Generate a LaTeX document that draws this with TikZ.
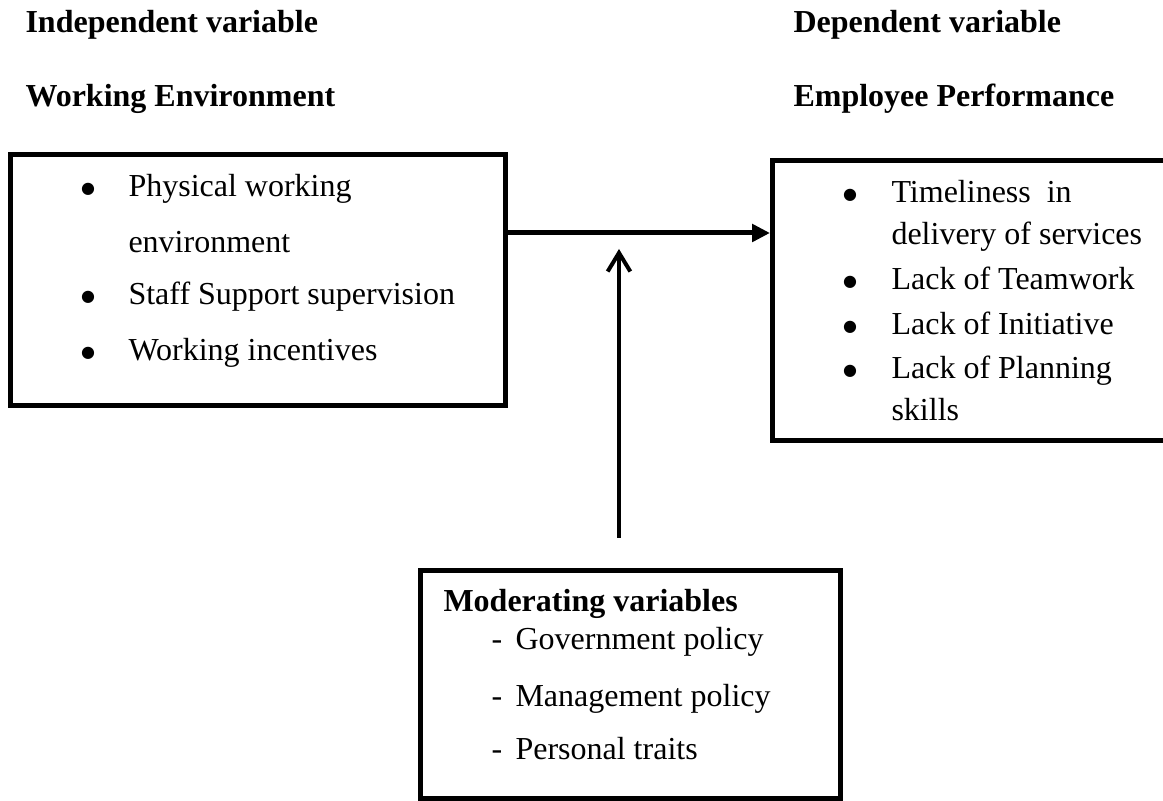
\documentclass[tikz,border=0pt]{standalone}
\usepackage{fontspec}
\setmainfont{Liberation Serif}
\newfontfamily\dotfont{DejaVu Sans}
\usetikzlibrary{positioning,fit,arrows.meta}

\tikzset{
  varbox/.style={draw, line width=1.875pt, inner sep=0pt},
  txt/.style={anchor=base west, inner sep=0pt, font=\fontsize{12pt}{14pt}\selectfont},
  headtxt/.style={txt, font=\fontsize{12pt}{14pt}\selectfont\bfseries},
  dot/.style={anchor=base, inner sep=0pt, font=\dotfont\fontsize{6pt}{7pt}\selectfont},
  flowarrow/.style={line width=1.875pt, -{Triangle[length=6.75pt,width=6.5pt]}},
  modarrow/.style={line width=1.5pt, -{Straight Barb[length=7pt,width=8.5pt]}},
}

\begin{document}
\begin{tikzpicture}[x=0.375pt,y=-0.375pt]
        \useasboundingbox (0,0) rectangle (1163,801);
        \clip (0,0) rectangle (1163,801);

        % Headings
        \node[headtxt] (indeptitle) at (25,33) {Independent variable};
        \node[headtxt] (indepname) at (25,107) {Working Environment};
        \node[headtxt] (deptitle) at (793,33) {Dependent variable};
        \node[headtxt] (depname) at (793,107) {Employee Performance};

        % Draw the boxes
        \node[varbox, fit={(10,154.5) (505,405.5)}] (indep) {};
        \node[varbox, fit={(772.5,160.5) (1180,440.5)}] (dep) {};
        \node[varbox, fit={(420.5,570.5) (840.5,798.5)}] (moder) {};

        % Working environment items
        \node[dot] (ib1) at (88,194) {●};
        \node[txt] (it1) at (128,197) {Physical working};
        \node[txt] (it1b) at (128,253) {environment};
        \node[dot] (ib2) at (88,302) {●};
        \node[txt] (it2) at (128,305) {Staff Support supervision};
        \node[dot] (ib3) at (88,358) {●};
        \node[txt] (it3) at (128,361) {Working incentives};

        % Employee performance items
        \node[dot] (db1) at (850,200) {●};
        \node[txt] (dt1) at (891,203) {Timeliness\ \ in};
        \node[txt] (dt1b) at (891,245) {delivery of services};
        \node[dot] (db2) at (850,287) {●};
        \node[txt] (dt2) at (891,290) {Lack of Teamwork};
        \node[dot] (db3) at (850,332) {●};
        \node[txt] (dt3) at (891,335) {Lack of Initiative};
        \node[dot] (db4) at (850,376) {●};
        \node[txt] (dt4) at (891,379) {Lack of Planning};
        \node[txt] (dt4b) at (891,421) {skills};

        % Moderating variables
        \node[headtxt] (modtitle) at (443,612) {Moderating variables};
        \node[txt] (md1) at (491,650) {-};
        \node[txt] (mt1) at (515,650) {Government policy};
        \node[txt] (md2) at (491,707) {-};
        \node[txt] (mt2) at (515,707) {Management policy};
        \node[txt] (md3) at (491,760) {-};
        \node[txt] (mt3) at (515,760) {Personal traits};

        % Arrows
        \coordinate (flow) at (0,233);
        \draw[flowarrow] (indep.east |- flow) -- (dep.west |- flow);
        \coordinate (modtail) at (619,538);
        \coordinate (modhead) at (619,249);
        \draw[modarrow] (modtail) -- (modhead);
    \end{tikzpicture}
\end{document}
